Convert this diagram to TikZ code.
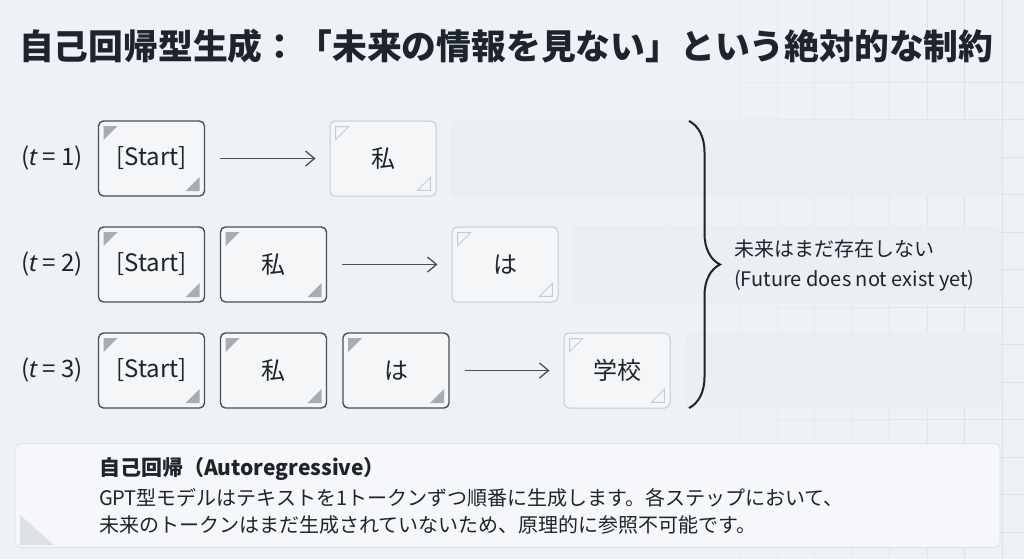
\documentclass[tikz,border=0pt]{standalone}
\usepackage{fontspec}
\setmainfont{Noto Sans CJK JP}
\newfontfamily\latinit{Noto Sans}
\usepackage{tikz}
\usetikzlibrary{arrows.meta}
\usetikzlibrary{positioning}
\usetikzlibrary{decorations.pathreplacing}
\definecolor{bgcol}{HTML}{EEF1F5}
\definecolor{gridcol}{HTML}{DDE2E8}
\definecolor{inkcol}{HTML}{1E242C}
\definecolor{edgecol}{HTML}{4A4F57}
\definecolor{paleedge}{HTML}{C6CBD2}
\definecolor{cornercol}{HTML}{A7ADB6}
\definecolor{emptycol}{HTML}{EBEEF2}
\tikzset{token/.style = {draw=edgecol, line width=0.7pt, fill=white!35!bgcol,
                         rounded corners=2.5pt, minimum width=53pt, minimum height=37.5pt,
                         text=inkcol, font=\fontsize{12}{14}\selectfont,
                         path picture={
                           \fill [cornercol, sharp corners] ([shift={(2.5pt,-2.5pt)}]path picture bounding box.north west)
                             -- ++(7pt,0) -- ++(-7pt,-7pt) -- cycle;
                           \fill [cornercol, sharp corners] ([shift={(-2.5pt,2.5pt)}]path picture bounding box.south east)
                             -- ++(-7pt,0) -- ++(7pt,7pt) -- cycle;}},
         next/.style = {token, draw=paleedge, line width=0.5pt,
                        path picture={
                           \draw [paleedge, line width=0.45pt, sharp corners] ([shift={(2.8pt,-2.8pt)}]path picture bounding box.north west)
                             -- ++(6.5pt,0) -- ++(-6.5pt,-6.5pt) -- cycle;
                           \draw [paleedge, line width=0.45pt, sharp corners] ([shift={(-2.8pt,2.8pt)}]path picture bounding box.south east)
                             -- ++(-6.5pt,0) -- ++(6.5pt,6.5pt) -- cycle;}},
         empty/.style = {draw=gridcol!70!white, fill=emptycol, line width=0.4pt,
                         rounded corners=2.5pt, minimum height=37.5pt},
         stepname/.style = {anchor=west, text=inkcol, font=\fontsize{12}{14}\selectfont},
         gen/.style = {-{Straight Barb[length=4.5pt, width=7.5pt]}, draw=edgecol, line width=0.65pt,
                       shorten <=7.5pt, shorten >=7pt}}

\begin{document}
\begin{tikzpicture}[x=0.5pt, y=-0.5pt]
    \fill [bgcol] (0, 0) rectangle (1024, 559);
    \useasboundingbox (0, 0) rectangle (1024, 559);

    % faint grid on the right
    \foreach \i in {0,...,9} {
      \pgfmathsetmacro\gx{1002 - 37.5 * \i}
      \pgfmathsetmacro\op{1 - \i / 10}
      \draw [gridcol, line width=0.4pt, opacity=\op] (\gx, 0) -- (\gx, 559);
      \foreach \gy in {82,119.5,...,559} {
        \draw [gridcol, line width=0.4pt, opacity=\op] (\gx, \gy) -- +(37.5, 0);
      }
    }

    \node [anchor=west, text=inkcol, font=\fontsize{17.4}{20}\selectfont\bfseries] (title) at (12, 46)
      {自己回帰型生成：「未来の情報を見ない」という絶対的な制約};

    % empty future slots
    \node [empty, minimum width=274pt] (f1) at (726, 158.5) {};
    \node [empty, minimum width=213.5pt] (f2) at (786.5, 264.5) {};
    \node [empty, minimum width=157pt] (f3) at (843, 370.5) {};

    % t = 1
    \node [stepname] (t1) at (14, 158.5) {({\latinit\itshape t} = 1)};
    \node [token] (s1) at (151.5, 158.5) {[Start]};
    \node [next] (w1) at (383, 158.5) {私};
    \draw [gen] (s1) -- (w1);

    % t = 2
    \node [stepname] (t2) at (14, 264.5) {({\latinit\itshape t} = 2)};
    \node [token] (s2) at (151.5, 264.5) {[Start]};
    \node [token] (a2) at (273.5, 264.5) {私};
    \node [next] (w2) at (505, 264.5) {は};
    \draw [gen] (a2) -- (w2);

    % t = 3
    \node [stepname] (t3) at (14, 370.5) {({\latinit\itshape t} = 3)};
    \node [token] (s3) at (151.5, 370.5) {[Start]};
    \node [token] (a3) at (273.5, 370.5) {私};
    \node [token] (b3) at (396, 370.5) {は};
    \node [next] (w3) at (617, 370.5) {学校};
    \draw [gen] (b3) -- (w3);

    \coordinate (bt) at (689, 121);
    \coordinate (bb) at (689, 408);
    \draw [inkcol, line width=1pt, decorate, decoration={brace, amplitude=15.5pt}] (bt) -- (bb);
    \node [anchor=west, align=left, text=inkcol, font=\fontsize{10}{15}\selectfont] (future) at (727, 265)
      {未来はまだ存在しない\\(Future does not exist yet)};

    % explanation
    \node [draw=gridcol, fill=white!45!bgcol, rounded corners=2.5pt, minimum width=492.5pt,
           minimum height=52pt] (note) at (507.5, 495.5) {};
    \fill [paleedge!60!white] (20, 515) -- (20, 545) -- (54, 545) -- cycle;
    \node [anchor=west, text=inkcol, font=\fontsize{10.5}{12}\selectfont\bfseries] (hd) at (92, 469)
      {自己回帰（Autoregressive）};
    \node [anchor=west, text=inkcol, font=\fontsize{10}{12}\selectfont] (l1) at (92, 498)
      {GPT型モデルはテキストを1トークンずつ順番に生成します。各ステップにおいて、};
    \node [anchor=west, text=inkcol, font=\fontsize{10}{12}\selectfont] (l2) at (92, 525)
      {未来のトークンはまだ生成されていないため、原理的に参照不可能です。};
\end{tikzpicture}
\end{document}
